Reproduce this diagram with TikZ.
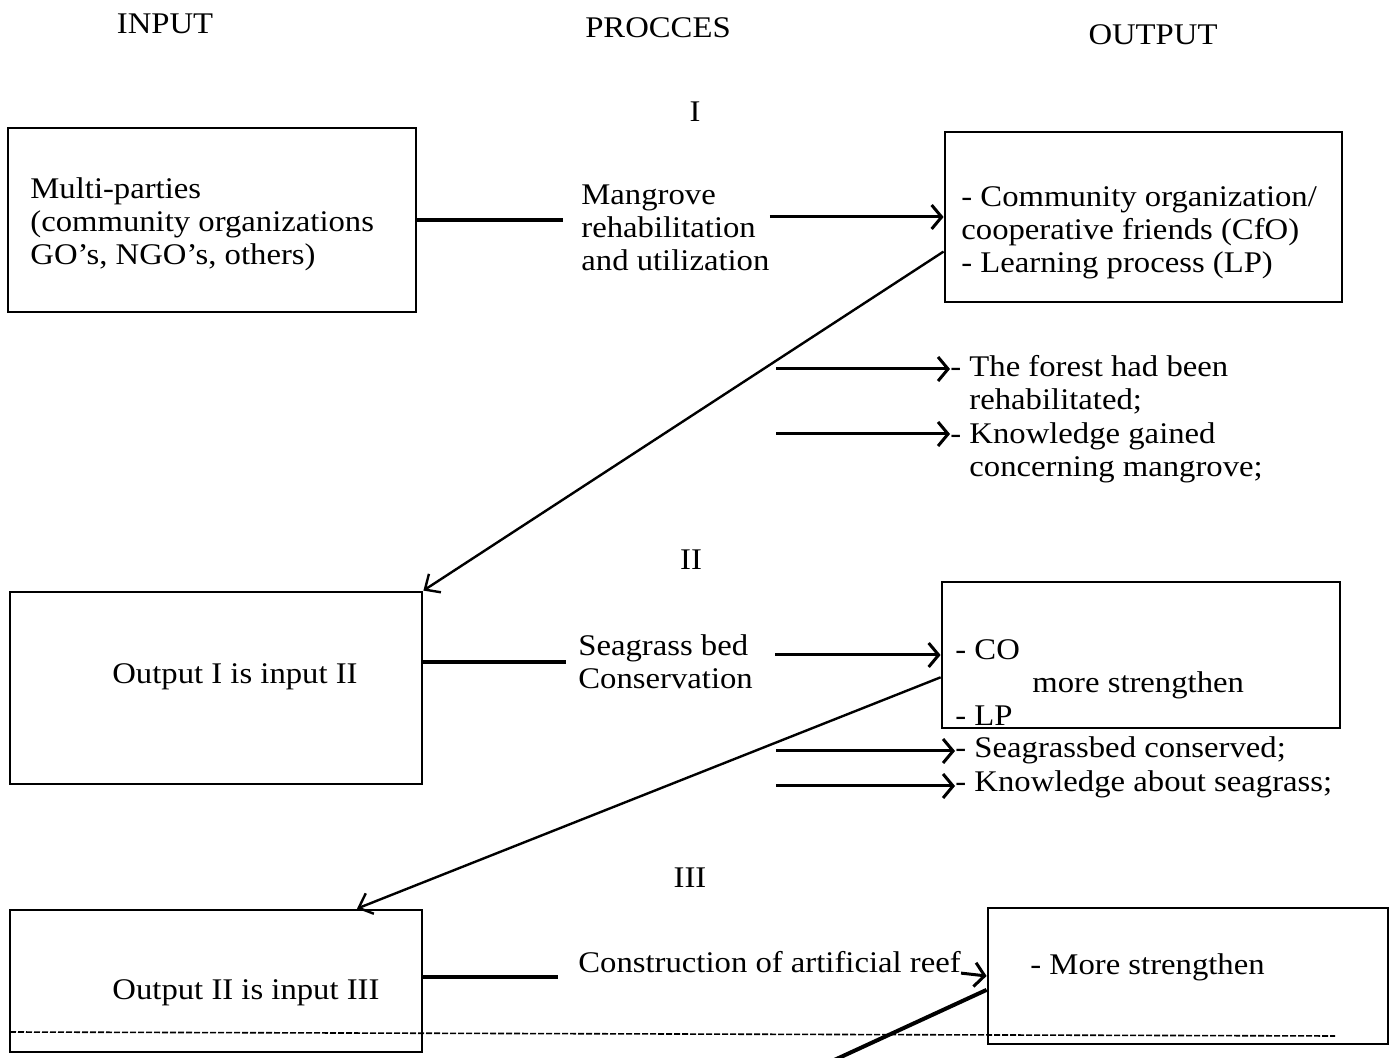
\documentclass[tikz,border=0pt]{standalone}
\usepackage{fontspec}
\setmainfont{Liberation Serif}[FakeStretch=1.09]
\usetikzlibrary{calc,arrows.meta}
\tikzset{
stagebox/.style={draw,line width=1.4pt,inner sep=0pt},
plaintxt/.style={inner sep=0pt,align=left,font=\fontsize{15}{16.5}\selectfont},
proctxt/.style={plaintxt},
joinline/.style={line width=1.6pt,shorten >=9pt},
steparrow/.style={-{Straight Barb[length=5pt,width=12pt]},line width=1.5pt},
backarrow/.style={-{Straight Barb[length=6pt,width=11pt]},line width=1.2pt},
cutline/.style={line width=0.8pt,dash pattern=on 3pt off 1pt}
}
\begin{document}
\begin{tikzpicture}[x=0.5pt,y=-0.5pt]
\useasboundingbox[fill=white] (0,0) rectangle (1394,1058);
% column heads
\node[plaintxt] (headin) at (165,24) {INPUT};
\node[plaintxt] (headproc) at (658,28) {PROCCES};
\node[plaintxt] (headout) at (1153,35) {OUTPUT};
\node[plaintxt] (stageI) at (695,112) {I};
\node[plaintxt] (stageII) at (691,560) {II};
\node[plaintxt] (stageIII) at (690,878) {III};
% stage I
\node[stagebox,minimum width=204pt,minimum height=92pt] (inA) at (212,220) {};
\node[plaintxt,anchor=west] (inAtxt) at (30,224) {Multi-parties\\(community organizations\\GO's, NGO's, others)};
\node[proctxt,anchor=west] (procA) at (581,228) {Mangrove\\rehabilitation\\and utilization};
\node[stagebox,minimum width=198.5pt,minimum height=85pt] (outA) at (1143.5,217) {};
\node[plaintxt,anchor=west] (outAtxt) at (961,233) {- Community organization/\\cooperative friends (CfO)\\- Learning process (LP)};
\draw[joinline] (inA.east) -- (inA.east -| procA.west);
\draw[steparrow] (procA.east |- outA.west) -- (outA.west);
\node[plaintxt,anchor=north west] (resA1) at (950,355) {- The forest had been\\\phantom{- }rehabilitated;};
\node[plaintxt,anchor=north west] (resA2) at (950,422) {- Knowledge gained\\\phantom{- }concerning mangrove;};
\coordinate (tailA1) at (776,369);
\coordinate (tailA2) at (776,434);
\draw[steparrow] (tailA1) -- (tailA1 -| resA1.west);
\draw[steparrow] (tailA2) -- (tailA2 -| resA2.west);
% stage II
\node[stagebox,minimum width=206pt,minimum height=96pt] (inB) at (216,688) {};
\node[plaintxt] (inBtxt) at (235,677) {Output I is input II};
\node[proctxt,anchor=west] (procB) at (578,662) {Seagrass bed\\Conservation};
\node[stagebox,minimum width=199pt,minimum height=73pt] (outB) at (1141,655) {};
\node[plaintxt,anchor=west] (outBco) at (955,650) {- CO};
\node[plaintxt,anchor=west] (outBmore) at (1032,685) {more strengthen};
\node[plaintxt,anchor=west] (outBlp) at (955,716) {- LP};
\draw[backarrow] ($(outA.west)!0.4!(outA.south west)$) -- (inB.north east);
\draw[joinline,shorten >=6pt] (inB.east |- procB.west) -- (procB.west);
\draw[steparrow,shorten <=11pt] (procB.east |- outB.west) -- (outB.west);
\node[plaintxt,anchor=west] (resB1) at (955,750) {- Seagrassbed conserved;};
\node[plaintxt,anchor=west] (resB2) at (955,784) {- Knowledge about seagrass;};
\coordinate (tailB1) at (776,751);
\coordinate (tailB2) at (776,786);
\draw[steparrow] (tailB1) -- (tailB1 -| resB1.west);
\draw[steparrow] (tailB2) -- (tailB2 -| resB2.west);
% stage III
\node[stagebox,minimum width=206pt,minimum height=71pt] (inC) at (216,981) {};
\node[plaintxt] (inCtxt) at (246,993) {Output II is input III};
\node[proctxt,anchor=west] (procC) at (578,962) {Construction of artificial reef};
\node[stagebox,minimum width=200pt,minimum height=68pt] (outC) at (1188,976) {};
\node[plaintxt,anchor=west] (outCtxt) at (1030,967) {- More strengthen};
\draw[backarrow] ($(outB.west)!0.3!(outB.south west)$) -- ($(inC.north west)!0.84!(inC.north east)$);
\draw[joinline,shorten >=10pt] (inC.east |- 0,977) -- (procC.west |- 0,977);
\draw[steparrow] (procC.south east) -- (outC.west);
\coordinate (cutL) at (10,1032);
\coordinate (cutR) at (1335,1036);
\draw[cutline] (cutL) -- (cutR);
\coordinate (contC) at (830,1062);
\draw[line width=2pt] ($(outC.west)!0.2!(outC.south west)$) -- (contC);
\end{tikzpicture}
\end{document}
